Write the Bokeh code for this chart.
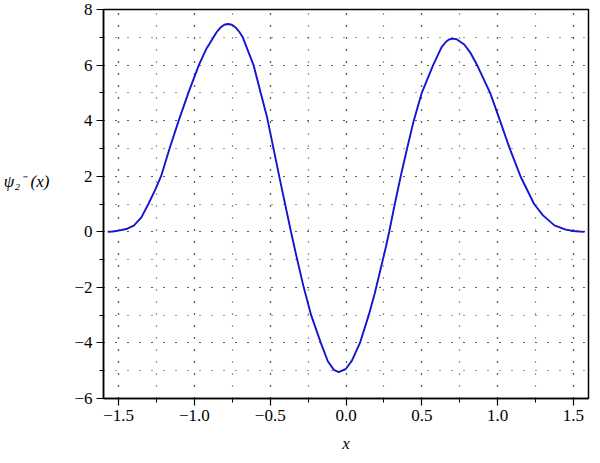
from bokeh.plotting import figure
from bokeh.models import FixedTicker, CustomJSTickFormatter, Range1d
from bokeh.embed import file_html
from bokeh.resources import INLINE

# values
x_vals = [-1.572, -1.54, -1.50, -1.45, -1.40, -1.35, -1.304, -1.26, -1.22, -1.164,
          -1.104, -1.04, -0.971, -0.92, -0.874, -0.853, -0.828, -0.803, -0.778, -0.753,
          -0.728, -0.703, -0.681, -0.610, -0.563, -0.52, -0.438, -0.402, -0.363, -0.322,
          -0.279, -0.230, -0.166, -0.12, -0.08, -0.048, 0.0, 0.04, 0.092, 0.150,
          0.189, 0.23, 0.264, 0.285, 0.322, 0.361, 0.403, 0.447, 0.50, 0.575,
          0.63, 0.66, 0.68, 0.704, 0.73, 0.78, 0.82, 0.865, 0.951, 1.016,
          1.080, 1.151, 1.241, 1.30, 1.375, 1.45, 1.50, 1.54, 1.574]
psi_vals = [0.0, 0.01, 0.04, 0.10, 0.22, 0.52, 1.0, 1.5, 2.0, 3.0,
            4.0, 5.0, 6.0, 6.6, 7.0, 7.19, 7.35, 7.45, 7.48, 7.45,
            7.35, 7.19, 7.0, 6.0, 5.0, 4.1, 1.93, 1.0, 0.0, -1.0,
            -2.0, -3.0, -4.0, -4.66, -4.97, -5.05, -4.93, -4.63, -4.0, -3.0,
            -2.23, -1.3, -0.53, 0.0, 1.0, 2.0, 3.0, 4.0, 5.0, 6.0,
            6.64, 6.84, 6.92, 6.95, 6.93, 6.74, 6.45, 6.0, 5.0, 4.0,
            3.0, 2.0, 1.0, 0.59, 0.23, 0.08, 0.03, 0.01, 0.0]

x_major = [-1.5, -1.0, -0.5, 0.0, 0.5, 1.0, 1.5]
x_minor = [-1.5, -1.25, -1.0, -0.75, -0.5, -0.25, 0.0, 0.25, 0.5, 0.75, 1.0, 1.25, 1.5]
y_major = [-6, -4, -2, 0, 2, 4, 6, 8]
y_minor = [-6, -5, -4, -3, -2, -1, 0, 1, 2, 3, 4, 5, 6, 7, 8]

FONT = "'Liberation Serif', 'Times New Roman', serif"

p = figure(width=592, height=455, output_backend="svg", toolbar_location=None,
           x_range=Range1d(-1.6, 1.6), y_range=Range1d(-6, 8),
           min_border_left=30, min_border_right=4, min_border_top=9, min_border_bottom=54)

p.line(x_vals, psi_vals, line_color="#1414d2", line_width=1.9)

p.xaxis.ticker = FixedTicker(ticks=x_major, minor_ticks=x_minor)
p.yaxis.ticker = FixedTicker(ticks=y_major, minor_ticks=y_minor)
p.xaxis.formatter = CustomJSTickFormatter(code="return tick.toFixed(1).replace('-', '\u2212');")
p.yaxis.formatter = CustomJSTickFormatter(code="return tick.toFixed(0).replace('-', '\u2212');")

for ax in (p.xaxis, p.yaxis):
    ax.axis_line_color = "black"
    ax.axis_line_width = 1.5
    ax.major_tick_line_color = "black"
    ax.minor_tick_line_color = "black"
    ax.major_tick_line_width = 1.2
    ax.minor_tick_line_width = 1.0
    ax.major_tick_out = 7
    ax.major_tick_in = 0
    ax.minor_tick_out = 4
    ax.minor_tick_in = 0
    ax.major_label_text_font = FONT
    ax.major_label_text_font_size = "17px"
    ax.major_label_text_color = "black"
    ax.major_label_standoff = 4

p.xaxis.axis_label = "x"
p.xaxis.axis_label_text_font = FONT
p.xaxis.axis_label_text_font_style = "italic"
p.xaxis.axis_label_text_font_size = "17px"
p.xaxis.axis_label_text_color = "black"
p.xaxis.axis_label_standoff = 10

p.yaxis.axis_label = "\u03c8\u2082\u207b (x)\n\n"
p.yaxis.axis_label_orientation = "horizontal"
p.yaxis.axis_label_text_font = FONT
p.yaxis.axis_label_text_font_style = "italic"
p.yaxis.axis_label_text_font_size = "17px"
p.yaxis.axis_label_text_color = "black"
p.yaxis.axis_label_standoff = 22

p.outline_line_color = "black"
p.outline_line_width = 1.5

for g in (p.xgrid, p.ygrid):
    g.grid_line_color = "black"
    g.grid_line_dash = "1 11"
    g.grid_line_width = 1.2
    g.grid_line_alpha = 0.8
    g.minor_grid_line_color = "black"
    g.minor_grid_line_dash = "1 11"
    g.minor_grid_line_width = 1.2
    g.minor_grid_line_alpha = 0.8

p.background_fill_color = "white"
p.border_fill_color = "white"

open("out.html", "w").write(file_html(p, INLINE))
